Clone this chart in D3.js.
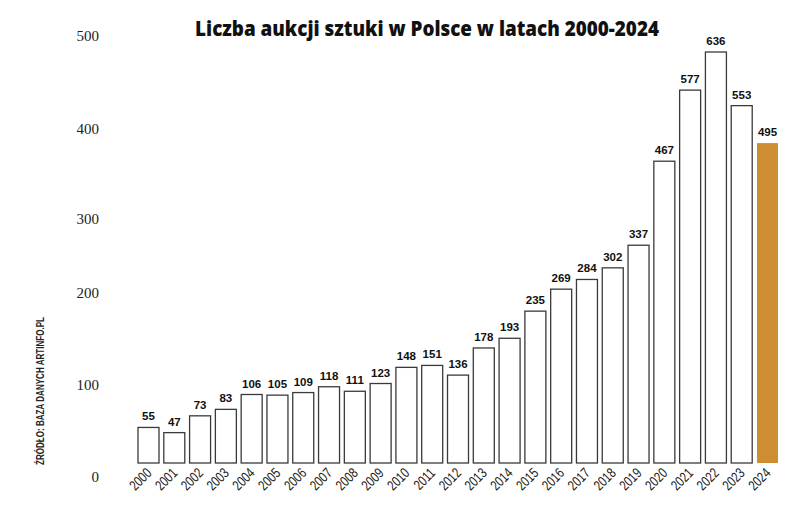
<!DOCTYPE html>
<html>
<head>
<meta charset="utf-8">
<script src="https://cdn.jsdelivr.net/npm/d3@7"></script>
<style>
  body { margin: 0; background: #fff; }
  svg { display: block; }
</style>
</head>
<body>
<svg width="797" height="508"></svg>
<script>
const years = ['2000', '2001', '2002', '2003', '2004', '2005', '2006', '2007', '2008', '2009',
  '2010', '2011', '2012', '2013', '2014', '2015', '2016', '2017', '2018', '2019',
  '2020', '2021', '2022', '2023', '2024'];
const auctions = [55, 47, 73, 83, 106, 105, 109, 118, 111, 123,
  148, 151, 136, 178, 193, 235, 269, 284, 302, 337,
  467, 577, 636, 553, 495];
const axisTicks = [0, 100, 200, 300, 400, 500];
const highlightYear = '2024';

const svg = d3.select('svg');

let x = d3.scaleBand().domain(years).range([138, 778]).paddingInner(0.186).paddingOuter(0);
let y = d3.scaleLinear().domain([0, 636]).range([463, 52]);
// the printed axis labels in the original are unevenly spaced, not on the bar scale
let yLabels = d3.scaleLinear().domain(axisTicks).range([477, 385, 293, 219, 129, 36]);

// title: squeeze the bold face to the width of the original
let title = svg.append('text')
  .attr('text-anchor', 'middle')
  .attr('font-family', 'Open Sans, sans-serif')
  .attr('font-weight', 800)
  .attr('font-size', 21)
  .attr('fill', '#111')
  .text('Liczba aukcji sztuki w Polsce w latach 2000-2024');
let titleWidth = title.node().getComputedTextLength();
title.attr('transform', `translate(427,36) scale(${464 / titleWidth},1)`);

let yAxis = svg.append('g')
  .attr('transform', 'translate(99,0)')
  .call(d3.axisLeft(yLabels).tickValues(axisTicks).tickSize(0).tickPadding(0));
yAxis.select('.domain').remove();
yAxis.selectAll('text')
  .attr('font-family', 'Liberation Serif, serif')
  .attr('font-size', 15)
  .attr('fill', '#222');

let data = years.map((year, i) => ({ year, value: auctions[i] }));

svg.append('g').selectAll('rect')
  .data(data)
  .join('rect')
  .attr('x', (d) => x(d.year))
  .attr('y', (d) => y(d.value))
  .attr('width', x.bandwidth())
  .attr('height', (d) => y(0) - y(d.value))
  .attr('fill', (d) => d.year === highlightYear ? '#cc8e31' : '#fff')
  .attr('stroke', (d) => d.year === highlightYear ? 'none' : '#3a3a3a')
  .attr('stroke-width', 1.3);

svg.append('g').selectAll('text')
  .data(data)
  .join('text')
  .attr('x', (d) => x(d.year) + x.bandwidth() / 2)
  .attr('y', (d) => y(d.value) - 7)
  .attr('text-anchor', 'middle')
  .attr('font-family', 'Liberation Sans, Arial, sans-serif')
  .attr('font-weight', 700)
  .attr('font-size', 11.5)
  .attr('fill', '#111')
  .text((d) => d.value);

let xAxis = svg.append('g')
  .attr('transform', 'translate(0,474)')
  .call(d3.axisBottom(x).tickSize(0).tickPadding(0));
xAxis.select('.domain').remove();
xAxis.selectAll('text')
  .attr('text-anchor', 'end')
  .attr('dy', 0)
  .attr('transform', 'translate(4,0) rotate(-45) scale(0.85,1.1)')
  .attr('font-family', 'Liberation Sans Narrow, Arial Narrow, sans-serif')
  .attr('font-size', 13)
  .attr('fill', '#222');

svg.append('text')
  .attr('transform', 'translate(44,465) rotate(-90)')
  .attr('font-family', 'Liberation Sans Narrow, Arial Narrow, sans-serif')
  .attr('font-size', 10.5)
  .attr('font-weight', 600)
  .attr('textLength', 148)
  .attr('lengthAdjust', 'spacingAndGlyphs')
  .attr('fill', '#222')
  .text('ŹRÓDŁO: BAZA DANYCH ARTINFO.PL');
</script>
</body>
</html>
